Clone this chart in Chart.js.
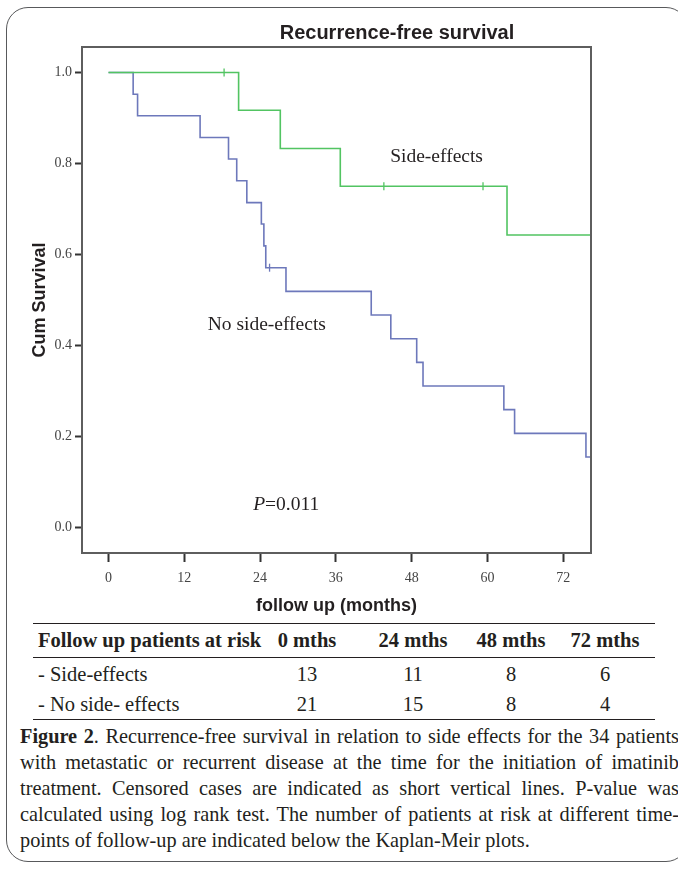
<!DOCTYPE html>
<html>
<head>
<meta charset="utf-8">
<script src="https://cdn.jsdelivr.net/npm/chart.js@4.4.1/dist/chart.umd.min.js"></script>
<style>
  body { margin: 0; width: 678px; height: 870px; overflow: hidden; background: #fff; position: relative;
         font-family: 'Liberation Serif', 'Times New Roman', serif; color: #231f20; }
  #frame { position: absolute; left: 6px; top: 7px; width: 680px; height: 853px; border: 1.5px solid #58595b; border-radius: 22px; }
  #wrap { position: absolute; left: 0; top: 0; width: 678px; height: 620px; }
  #risk { position: absolute; left: 33px; top: 623px; width: 622px; table-layout: fixed; border-collapse: collapse; font-size: 20.5px; }
  #risk th, #risk td { padding: 0; text-align: center; vertical-align: middle; white-space: nowrap; overflow: visible; }
  #risk th { font-weight: bold; height: 33px; border-top: 1.8px solid #231f20; border-bottom: 1px solid #231f20; }
  #risk th:first-child, #risk td:first-child { text-align: left; padding-left: 5px; }
  #risk tr.r1 td { height: 32px; }
  #risk tr.r2 td { height: 29px; border-bottom: 1.8px solid #231f20; }
  #caption { position: absolute; left: 20px; top: 723px; width: 659px; font-size: 20.3px; line-height: 26px; }
  #caption div { text-align: justify; text-align-last: justify; white-space: nowrap; }
  #caption div.last { text-align-last: left; }
</style>
</head>
<body>
<div id="frame"></div>
<div id="wrap"><canvas id="km" width="678" height="620"></canvas></div>
<table id="risk"></table>
<div id="caption">
  <div><b>Figure 2</b>. Recurrence-free survival in relation to side effects for the 34 patients</div>
  <div>with metastatic or recurrent disease at the time for the initiation of imatinib</div>
  <div>treatment. Censored cases are indicated as short vertical lines. P-value was</div>
  <div>calculated using log rank test. The number of patients at risk at different time-</div>
  <div class="last">points of follow-up are indicated below the Kaplan-Meir plots.</div>
</div>
<script>
// axis ticks
const xTicks = [0, 12, 24, 36, 48, 60, 72];
const yTicks = [0, 0.2, 0.4, 0.6, 0.8, 1.0];

// Side-effects group (months, cum survival)
const sideTime = [0, 20.6, 27.2, 36.7, 63.1, 77];
const sideSurv = [1, 0.917, 0.833, 0.75, 0.643, 0.643];
const sideCensorTime = [18.3, 43.6, 59.3];
const sideCensorSurv = [1, 0.75, 0.75];

// No side-effects group
const noSideTime = [0, 3.9, 4.6, 14.5, 19.0, 20.3, 21.9, 24.2, 24.6, 24.9, 28.1, 41.6, 44.7, 48.8, 49.8, 62.6, 64.3, 75.6, 77];
const noSideSurv = [1, 0.952, 0.905, 0.857, 0.810, 0.762, 0.714, 0.667, 0.619, 0.571, 0.519, 0.467, 0.415, 0.363, 0.311, 0.259, 0.207, 0.155, 0.155];
const noSideCensorTime = [25.5];
const noSideCensorSurv = [0.571];

// patients at risk table
const riskCols = ['0 mths', '24 mths', '48 mths', '72 mths'];
const riskSide = [13, 11, 8, 6];
const riskNoSide = [21, 15, 8, 4];

const GREEN = '#52c462';
const BLUE = '#6d78bb';
const INK = '#231f20';

const pts = (xs, ys) => xs.map((x, i) => ({ x: x, y: ys[i] }));

// build the risk table
const risk = document.getElementById('risk');
const widths = [222, 104, 108, 88, 100];
let html = '<tr><th style="width:' + (widths[0] - 5) + 'px">Follow up patients at risk</th>' +
    riskCols.map((c, i) => '<th style="width:' + widths[i + 1] + 'px">' + c + '</th>').join('') + '</tr>';
html += '<tr class="r1"><td>- Side-effects</td>' + riskSide.map(v => '<td>' + v + '</td>').join('') + '</tr>';
html += '<tr class="r2"><td>- No side- effects</td>' + riskNoSide.map(v => '<td>' + v + '</td>').join('') + '</tr>';
risk.innerHTML = html;

// box round the plot, title and the text labels
const decor = {
    id: 'decor',
    afterDatasetsDraw(chart) {
        const { ctx, chartArea: a, scales: { x, y } } = chart;
        ctx.save();
        ctx.strokeStyle = '#5e5e5e';
        ctx.lineWidth = 2;
        ctx.strokeRect(a.left, a.top, a.right - a.left, a.bottom - a.top);

        ctx.fillStyle = INK;
        ctx.textBaseline = 'middle';
        ctx.textAlign = 'center';
        ctx.font = 'bold 20px "Liberation Sans", Arial, sans-serif';
        ctx.fillText('Recurrence-free survival', 397, 33);

        ctx.textAlign = 'left';
        ctx.font = '19.5px "Liberation Serif", serif';
        ctx.fillText('Side-effects', x.getPixelForValue(44.6), y.getPixelForValue(0.814));
        ctx.fillText('No side-effects', x.getPixelForValue(15.7), y.getPixelForValue(0.445));

        const px = x.getPixelForValue(22.9), py = y.getPixelForValue(0.049);
        ctx.font = 'italic 19.5px "Liberation Serif", serif';
        ctx.fillText('P', px, py);
        const w = ctx.measureText('P').width;
        ctx.font = '19.5px "Liberation Serif", serif';
        ctx.fillText('=0.011', px + w, py);
        ctx.restore();
    }
};

new Chart(document.getElementById('km'), {
    type: 'scatter',
    data: {
        datasets: [
            { label: 'Side-effects', data: pts(sideTime, sideSurv), showLine: true, stepped: 'before',
              borderColor: GREEN, borderWidth: 1.6, pointRadius: 0, fill: false },
            { label: 'Side-effects censored', data: pts(sideCensorTime, sideCensorSurv),
              pointStyle: 'line', rotation: 90, pointRadius: 4, borderColor: GREEN, borderWidth: 1.3 },
            { label: 'No side-effects', data: pts(noSideTime, noSideSurv), showLine: true, stepped: 'before',
              borderColor: BLUE, borderWidth: 1.6, pointRadius: 0, fill: false },
            { label: 'No side-effects censored', data: pts(noSideCensorTime, noSideCensorSurv),
              pointStyle: 'line', rotation: 90, pointRadius: 4, borderColor: BLUE, borderWidth: 1.3 }
        ]
    },
    options: {
        responsive: false,
        animation: false,
        layout: { padding: { left: 0, top: 47, right: 87, bottom: 0 } },
        plugins: { legend: { display: false }, tooltip: { enabled: false } },
        scales: {
            x: {
                type: 'linear', min: -4.2, max: 76.4,
                afterBuildTicks: s => { s.ticks = xTicks.map(v => ({ value: v })); },
                afterFit: s => { s.height = 67; },
                grid: { drawOnChartArea: false, drawTicks: true, tickLength: 9, tickColor: '#333', tickWidth: 2 },
                border: { display: false },
                ticks: { padding: 8, maxRotation: 0, color: '#444', font: { family: 'Liberation Serif', size: 14 } },
                title: { display: true, text: 'follow up (months)', color: INK,
                         font: { family: 'Liberation Sans', size: 18, weight: 'bold' }, padding: { top: 0, bottom: 3 } }
            },
            y: {
                type: 'linear', min: -0.056, max: 1.056,
                afterBuildTicks: s => { s.ticks = yTicks.map(v => ({ value: v })); },
                afterFit: s => { s.width = 82; },
                grid: { drawOnChartArea: false, drawTicks: true, tickLength: 7, tickColor: '#333', tickWidth: 2 },
                border: { display: false },
                ticks: { padding: 3, color: '#444', font: { family: 'Liberation Serif', size: 14 },
                         callback: v => v.toFixed(1) },
                title: { display: true, text: 'Cum Survival', color: INK,
                         font: { family: 'Liberation Sans', size: 18, weight: 'bold' }, padding: { top: 29, bottom: 0 } }
            }
        }
    },
    plugins: [decor]
});
</script>
</body>
</html>
